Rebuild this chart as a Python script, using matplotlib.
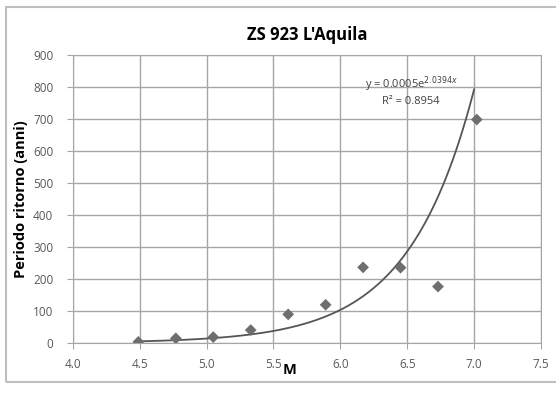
import numpy as np
import matplotlib
matplotlib.use("Agg")
import matplotlib.pyplot as plt
from matplotlib.patches import Rectangle

plt.rcParams["font.family"] = ["Open Sans", "DejaVu Sans"]

# data
magnitude = [4.49, 4.77, 5.05, 5.33, 5.61, 5.89, 6.17, 6.45, 6.73, 7.02]
return_period = [3, 14, 18, 40, 89, 119, 236, 235, 176, 698]

# exponential trend line y = a * exp(b * x)
fit_a = 0.0005
fit_b = 2.0394
fit_r2 = 0.8954
fit_range = (4.5, 7.0)

GRID = "#a6a6a6"
MARK = "#6e6e6e"

fig = plt.figure(figsize=(5.56, 4.01), dpi=100)
ax = fig.add_axes([0.131, 0.145, 0.842, 0.718])

# chart area border
fig.patches.append(Rectangle((6 / 556, 1 - 382 / 401), 560 / 556, 375 / 401,
                             transform=fig.transFigure, fill=False,
                             edgecolor="#bfbfbf", linewidth=1.5))

xs = np.linspace(*fit_range, 200)
ax.plot(xs, fit_a * np.exp(fit_b * xs), color="#555555", linewidth=1.3,
        zorder=3)
ax.scatter(magnitude, return_period, marker="D", s=36, color=MARK,
           edgecolors="none", zorder=4)

ax.set_xlim(4.0, 7.5)
ax.set_ylim(0, 900)
ax.set_xticks(np.arange(4.0, 7.51, 0.5))
ax.set_xticklabels([f"{v:.1f}" for v in np.arange(4.0, 7.51, 0.5)])
ax.set_yticks(range(0, 901, 100))
ax.grid(True, color=GRID, linewidth=1.0)
ax.set_axisbelow(True)
for s in ax.spines.values():
    s.set_color(GRID)
ax.tick_params(colors="#595959", labelsize=8.5, length=4, color=GRID)
ax.tick_params(axis="y", pad=10)
ax.tick_params(axis="x", pad=7)

ax.set_title("ZS 923 L'Aquila", fontsize=12, fontweight="bold", pad=11)
ax.set_ylabel("Periodo ritorno (anni)", fontsize=10.5, fontweight="bold",
              va="center")
ax.yaxis.set_label_coords(-0.110, 0.5)
ax.set_xlabel("M", fontsize=10.5, fontweight="bold", va="center")
ax.xaxis.set_label_coords(0.464, -0.094)

ax.text(6.53, 810, r"y = 0.0005e$^{2.0394x}$", fontsize=8, color="#404040",
        ha="center", va="center")
ax.text(6.53, 754, f"R² = {fit_r2}", fontsize=8, color="#404040",
        ha="center", va="center")

fig.savefig("out.png", dpi=100)
